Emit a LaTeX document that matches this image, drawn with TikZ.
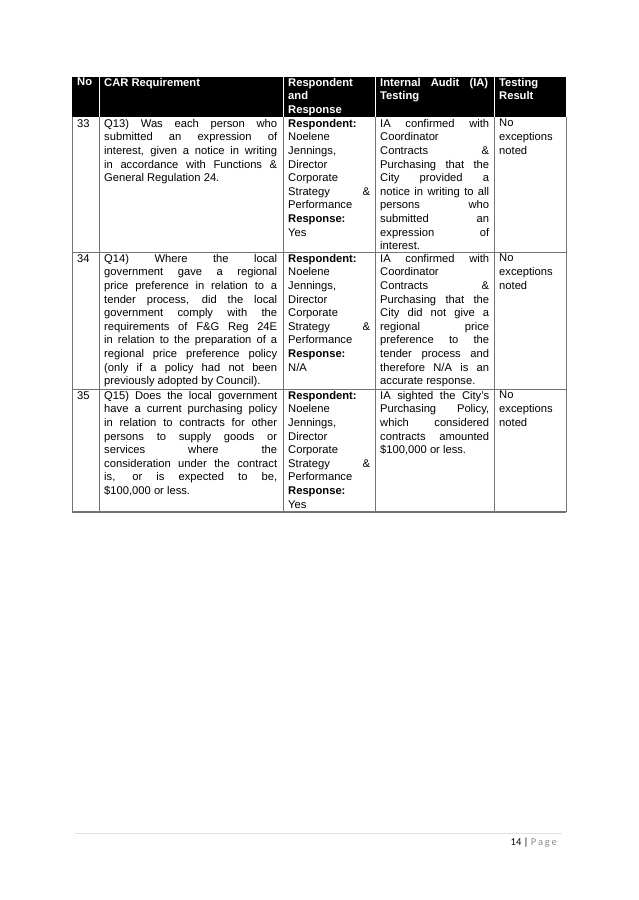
\documentclass[tikz,border=0pt]{standalone}
\usepackage{fontspec}
\setmainfont{Liberation Sans}
\newfontfamily\carlito{Carlito}
\newcommand\JA[1]{\makebox[173pt][s]{#1}}
\newcommand\JB[1]{\makebox[82pt][s]{#1}}
\newcommand\JC[1]{\makebox[109pt][s]{#1}}
\newcommand\JH[1]{\makebox[108pt][s]{#1}}
\begin{document}
\begin{tikzpicture}[x=1pt,y=-1pt,
  cell/.style={anchor=north west,inner sep=0pt,align=left,font=\fontsize{11.2}{13.6}\selectfont},
  hd/.style={cell,text=white,font=\fontsize{11.2}{13.6}\selectfont\bfseries},
  grid/.style={draw=black!55,line width=0.7pt}]
\useasboundingbox (0,0) rectangle (638,900);
\fill[black] (72,77) rectangle (566,117);
% grid
\foreach \x in {72,99,283,375,494,566} \draw[grid] (\x,117) -- (\x,512);
\foreach \y in {252,389} \draw[grid] (72,\y) -- (566,\y);
\draw[grid,line width=1.1pt] (72,512) -- (566,512);
\foreach \x in {99,283,375,494} \draw[white,line width=0.7pt] (\x,77) -- (\x,117);
% header
\node[hd] (h1) at (77,78) {No};
\node[hd] (h2) at (104,78) {CAR Requirement};
\node[hd] (h3) at (288,78) {Respondent\\and\\Response};
\node[hd] (h4) at (380,78) {\JH{Internal Audit (IA)}\\Testing};
\node[hd] (h5) at (499,78) {Testing\\Result};
% row 33
\node[cell] (n33) at (77,119) {33};
\node[cell] (q33) at (104,119) {\JA{Q13) Was each person who}\\\JA{submitted an expression of}\\\JA{interest, given a notice in writing}\\\JA{in accordance with Functions \&}\\General Regulation 24.};
\node[cell] (r33) at (288,119) {\textbf{Respondent:}\\Noelene\\Jennings,\\Director\\Corporate\\\JB{Strategy \&}\\Performance\\\textbf{Response:}\\Yes};
\node[cell] (t33) at (380,119) {\JC{IA confirmed with}\\Coordinator\\\JC{Contracts \&}\\\JC{Purchasing that the}\\\JC{City provided a}\\\JC{notice in writing to all}\\\JC{persons who}\\\JC{submitted an}\\\JC{expression of}\\interest.};
\node[cell] (e33) at (499,119) {No\\exceptions\\noted};
% row 34
\node[cell] (n34) at (77,254) {34};
\node[cell] (q34) at (104,254) {\JA{Q14) Where the local}\\\JA{government gave a regional}\\\JA{price preference in relation to a}\\\JA{tender process, did the local}\\\JA{government comply with the}\\\JA{requirements of F\&G Reg 24E}\\\JA{in relation to the preparation of a}\\\JA{regional price preference policy}\\\JA{(only if a policy had not been}\\previously adopted by Council).};
\node[cell] (r34) at (288,254) {\textbf{Respondent:}\\Noelene\\Jennings,\\Director\\Corporate\\\JB{Strategy \&}\\Performance\\\textbf{Response:}\\N/A};
\node[cell] (t34) at (380,254) {\JC{IA confirmed with}\\Coordinator\\\JC{Contracts \&}\\\JC{Purchasing that the}\\\JC{City did not give a}\\\JC{regional price}\\\JC{preference to the}\\\JC{tender process and}\\\JC{therefore N/A is an}\\accurate response.};
\node[cell] (e34) at (499,254) {No\\exceptions\\noted};
% row 35
\node[cell] (n35) at (77,391) {35};
\node[cell] (q35) at (104,391) {\JA{Q15) Does the local government}\\\JA{have a current purchasing policy}\\\JA{in relation to contracts for other}\\\JA{persons to supply goods or}\\\JA{services where the}\\\JA{consideration under the contract}\\\JA{is, or is expected to be,}\\\$100,000 or less.};
\node[cell] (r35) at (288,391) {\textbf{Respondent:}\\Noelene\\Jennings,\\Director\\Corporate\\\JB{Strategy \&}\\Performance\\\textbf{Response:}\\Yes};
\node[cell] (t35) at (380,391) {\JC{IA sighted the City's}\\\JC{Purchasing Policy,}\\\JC{which considered}\\\JC{contracts amounted}\\\$100,000 or less.};
\node[cell] (e35) at (499,391) {No\\exceptions\\noted};
% footer
\draw[black!12,line width=0.6pt] (75,833) -- (562,833);
\node[anchor=base east,inner sep=0pt,font=\carlito\fontsize{10.5}{12}\selectfont] (pg) at (557,845) {14 | \textcolor{black!45}{P\,a\,g\,e}};
\end{tikzpicture}
\end{document}
